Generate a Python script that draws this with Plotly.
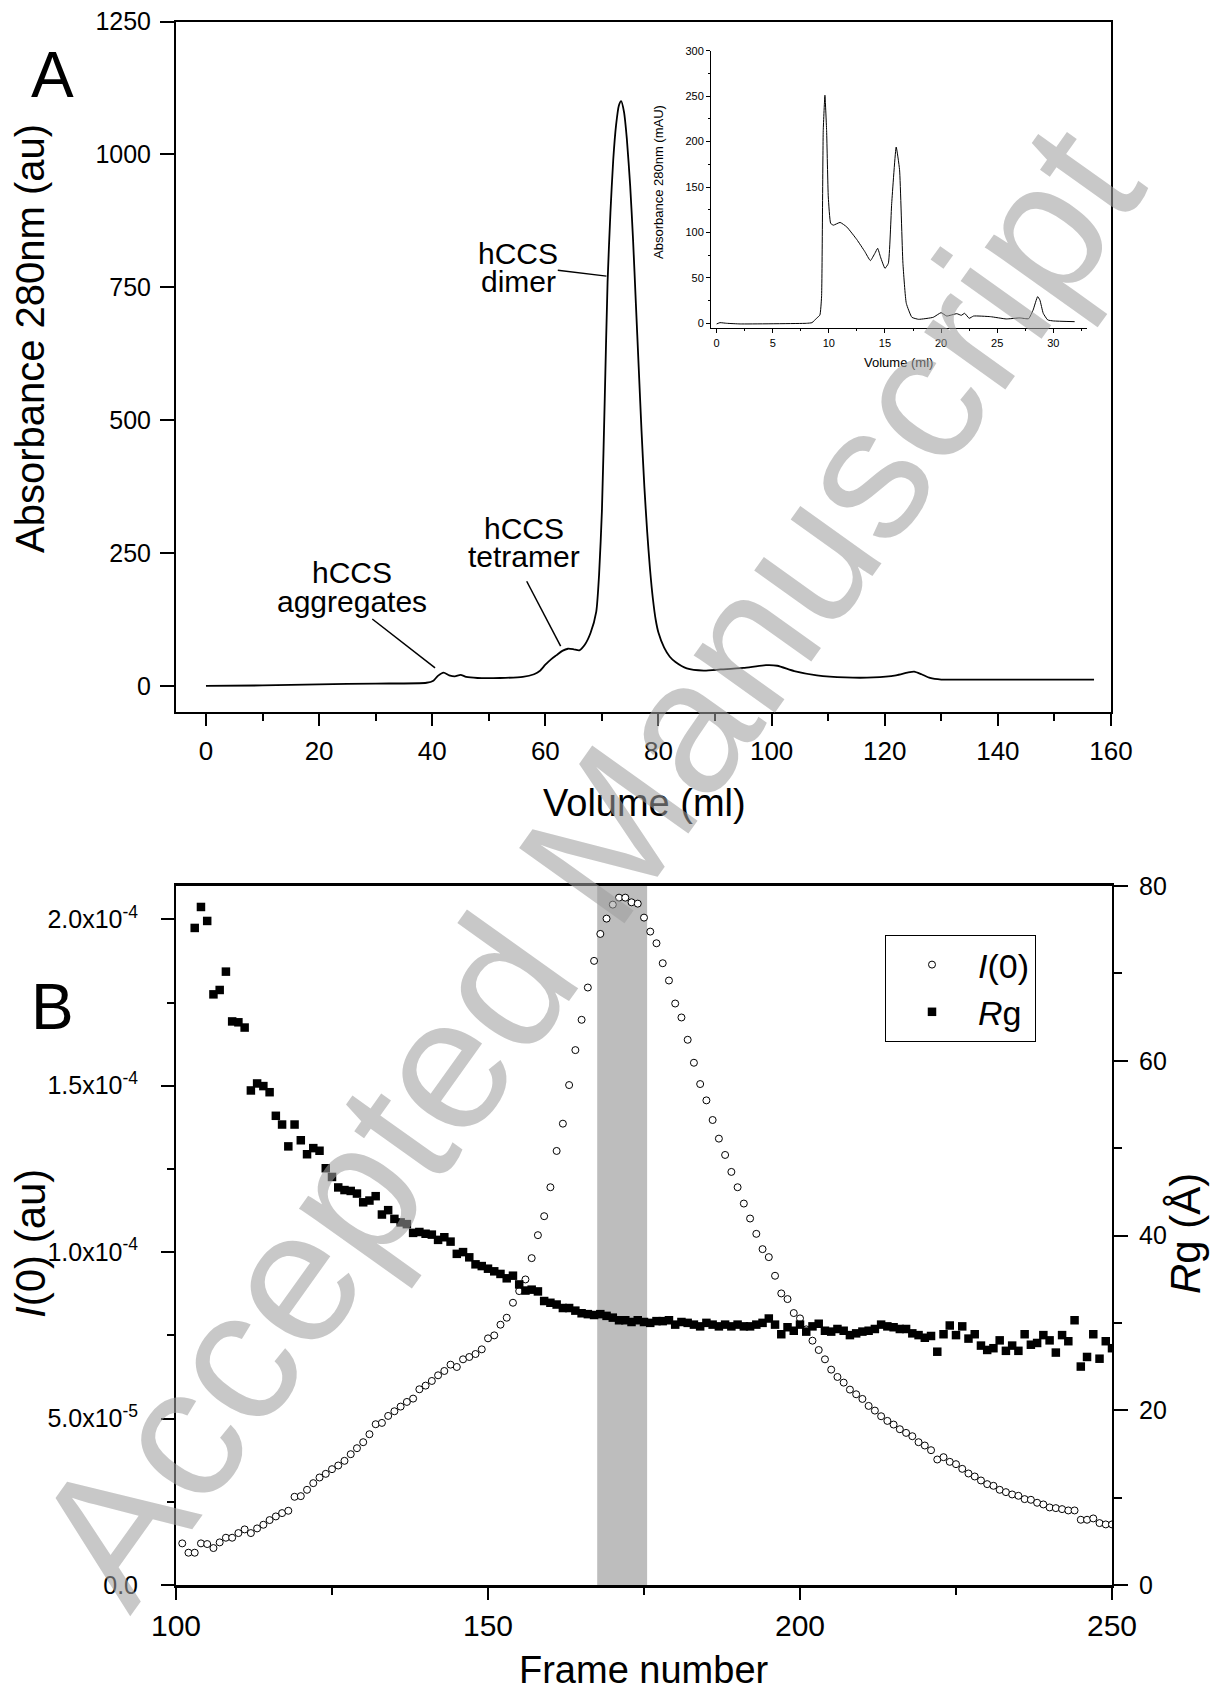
import plotly.graph_objects as go

W, H = 1225, 1690
OFF = 8  # page body margin offset (px) of the rendered html

# ---------------- Data ----------------
# Panel A: main SEC chromatogram (Volume ml, Absorbance au)
vol_main = [0, 10, 20, 30, 39, 40.2, 41, 42, 43, 44, 45, 46, 48, 52, 56, 58, 59, 60, 61, 62,
            63, 64, 65, 66, 67, 68, 69, 69.5, 70, 70.5, 71, 71.5, 72, 72.5, 73, 73.4, 73.9, 74.4,
            75, 75.5, 76, 76.5, 77, 77.5, 78, 78.5, 79, 79.5, 80, 81, 82, 83, 85, 88, 91, 95,
            99, 101, 104, 108, 113, 118, 122, 124, 125.2, 126.5, 128, 130, 135, 157]
abs_main = [0, 1, 3, 4.5, 6, 10, 19, 25, 20, 18, 21, 17, 15, 15, 17, 22, 28, 40, 50, 58,
            66, 70, 69, 67, 78, 100, 140, 210, 330, 540, 760, 890, 990, 1055, 1092, 1100, 1080, 1030,
            940, 840, 720, 600, 480, 375, 290, 220, 165, 125, 100, 72, 55, 45, 33, 29, 31, 34,
            39, 38, 28, 20, 16, 16, 20, 25, 27, 22, 15, 12, 12, 12]

# Panel A inset chromatogram (Volume ml, mAU)
vol_inset = [0, 0.3, 0.9, 2.1, 8, 8.5, 8.9, 9.2, 9.35, 9.5, 9.65, 9.8, 9.95, 10.16, 10.4, 11, 11.6,
             12.5, 13.2, 13.7, 14.1, 14.35, 14.6, 15.0, 15.3, 15.6, 16.0, 16.3, 16.6, 16.9, 17.4,
             18.0, 19.3, 20.0, 20.5, 21.4, 21.8, 22.1, 22.5, 22.9, 24.4, 25.8, 27, 27.8, 28.2,
             28.6, 28.8, 29.1, 29.5, 30, 31.9]
abs_inset = [-0.7, 0.7, 0, -0.7, 0, 0.7, 5.5, 9, 29, 212, 251, 212, 139, 110, 108, 111, 106,
             92, 79, 69, 77, 82.5, 73, 60.5, 66, 132, 194, 169, 66, 22, 6.6,
             4.4, 6.6, 11.7, 8, 10.6, 8.8, 11, 5.5, 8, 7.3, 4.8, 5.9, 5.1, 14.7,
             29.3, 25.7, 11, 3.7, 2.6, 1.8]

# Panel B: SAXS frames
frames_i0 = list(range(101, 251))
i0_e5 = [1.25, 0.97, 0.97, 1.25, 1.23, 1.11, 1.28, 1.42, 1.42, 1.56,
         1.67, 1.56, 1.70, 1.81, 1.95, 2.06, 2.16, 2.23, 2.65, 2.67,
         2.86, 3.06, 3.23, 3.34, 3.48, 3.59, 3.73, 3.93, 4.11, 4.29,
         4.53, 4.83, 4.87, 5.08, 5.22, 5.36, 5.50, 5.60, 5.88, 5.99,
         6.13, 6.30, 6.43, 6.62, 6.55, 6.78, 6.85, 6.94, 7.08, 7.41,
         7.50, 7.82, 8.03, 8.48, 8.83, 9.18, 9.82, 10.51, 11.08, 11.95,
         13.04, 13.86, 15.02, 16.07, 16.98, 17.95, 18.75, 19.56, 20.02, 20.44,
         20.65, 20.65, 20.51, 20.47, 20.05, 19.63, 19.28, 18.68, 18.16, 17.47,
         17.05, 16.38, 15.69, 15.05, 14.56, 13.97, 13.41, 12.92, 12.41, 11.95,
         11.46, 11.01, 10.55, 10.09, 9.85, 9.29, 8.76, 8.59, 8.17, 8.01,
         7.68, 7.34, 7.06, 6.78, 6.47, 6.25, 6.08, 5.87, 5.73, 5.59,
         5.38, 5.24, 5.07, 4.93, 4.82, 4.68, 4.57, 4.47, 4.29, 4.19,
         4.05, 3.77, 3.84, 3.70, 3.63, 3.49, 3.35, 3.26, 3.14, 3.03,
         2.98, 2.86, 2.79, 2.72, 2.68, 2.58, 2.56, 2.47, 2.42, 2.33,
         2.31, 2.28, 2.24, 2.24, 1.96, 1.96, 2.00, 1.86, 1.82, 1.82]

frames_rg = list(range(103, 251))
rg = [75.2, 77.6, 76.0, 67.6, 68.1, 70.2, 64.5, 64.4, 63.8, 56.6,
      57.4, 57.1, 56.4, 53.7, 52.7, 50.2, 52.7, 50.9, 49.3, 50.0,
      49.7, 47.7, 46.7, 45.5, 45.2, 45.1, 44.8, 43.8, 44.0, 44.5,
      42.4, 42.9, 41.9, 41.5, 41.3, 40.3, 40.4, 40.2, 40.1, 39.5,
      39.8, 39.3, 37.9, 38.1, 37.5, 36.7, 36.5, 36.2, 35.9, 35.6,
      35.1, 35.4, 34.4, 33.7, 33.8, 33.6, 32.5, 32.3, 32.1, 31.7,
      31.7, 31.4, 31.1, 31.0, 30.9, 31.0, 30.8, 30.6, 30.3, 30.3,
      30.1, 30.3, 30.1, 30.0, 30.2, 30.2, 30.3, 29.8, 30.1, 30.0,
      29.8, 29.6, 30.0, 29.8, 29.6, 29.8, 29.6, 29.8, 29.6, 29.6,
      29.8, 30.0, 30.5, 29.8, 28.7, 29.5, 29.1, 29.8, 29.0, 29.6,
      29.9, 29.1, 29.0, 29.3, 29.1, 28.6, 28.8, 29.0, 29.1, 29.3,
      29.8, 29.6, 29.5, 29.3, 29.3, 28.8, 28.6, 28.3, 28.5, 26.7,
      28.7, 29.7, 28.6, 29.6, 28.2, 28.7, 27.4, 26.9, 27.1, 28.0,
      26.8, 27.4, 26.8, 28.7, 27.5, 27.7, 28.6, 28.0, 26.6, 28.6,
      27.9, 30.3, 25.0, 26.1, 28.7, 25.9, 27.9, 27.1]

band_frames = [167.5, 175.5]

i0_ticks = [0, 5, 10, 15, 20]
i0_ticktext = ["0.0", "5.0x10<sup>-5</sup>", "1.0x10<sup>-4</sup>", "1.5x10<sup>-4</sup>", "2.0x10<sup>-4</sup>"]

# ---------------- Layout helpers (screen px -> paper) ----------------
def xdom(l, r):
    return [(l - OFF) / W, (r - OFF) / W]

def ydom(top, bottom):
    return [1 - (bottom - OFF) / H, 1 - (top - OFF) / H]

ARIAL = "Liberation Sans, Arial, Helvetica, sans-serif"
NARROW = "Liberation Sans Narrow, Arial Narrow, Liberation Sans, Arial, sans-serif"

fig = go.Figure()

fig.add_trace(go.Scatter(x=vol_main, y=abs_main, mode="lines",
                         line=dict(color="black", width=1.8, shape="spline", smoothing=0.6),
                         xaxis="x", yaxis="y", showlegend=False, hoverinfo="skip"))
fig.add_trace(go.Scatter(x=vol_inset, y=abs_inset, mode="lines",
                         line=dict(color="black", width=1.0, shape="spline", smoothing=0.4),
                         xaxis="x3", yaxis="y3", showlegend=False, hoverinfo="skip"))
fig.add_trace(go.Scatter(x=frames_i0, y=i0_e5, mode="markers", name="<i>I</i>(0)",
                         marker=dict(symbol="circle", size=7, color="white",
                                     line=dict(color="black", width=1)),
                         xaxis="x2", yaxis="y2"))
fig.add_trace(go.Scatter(x=frames_rg, y=rg, mode="markers", name="<i>R</i>g",
                         marker=dict(symbol="square", size=8.5, color="black",
                                     line=dict(width=0)),
                         xaxis="x2", yaxis="y4"))

axis_common = dict(showgrid=False, zeroline=False, showline=True, linecolor="black",
                   ticks="outside", tickcolor="black", automargin=False,
                   ticklabeloverflow="allow")

fig.update_layout(
    width=W, height=H, margin=dict(l=0, r=0, t=0, b=0, autoexpand=False),
    paper_bgcolor="white", plot_bgcolor="rgba(0,0,0,0)",
    font=dict(family=ARIAL, color="black"),
    # Panel A
    xaxis=dict(axis_common, domain=xdom(176, 1111), range=[-5.3, 160], anchor="y",
               mirror=True, linewidth=2, tickwidth=2, ticklen=12,
               tickvals=[0, 20, 40, 60, 80, 100, 120, 140, 160],
               minor=dict(dtick=10, tick0=0, ticklen=7, tickwidth=2, ticks="outside", tickcolor="black"),
               tickfont=dict(family=NARROW, size=26), ticklabelstandoff=3),
    yaxis=dict(axis_common, domain=ydom(21.5, 712), range=[-49, 1250], anchor="x",
               mirror=True, linewidth=2, tickwidth=2, ticklen=14,
               tickvals=[0, 250, 500, 750, 1000, 1250],
               tickfont=dict(family=ARIAL, size=25), ticklabelstandoff=4),
    # Inset
    xaxis3=dict(axis_common, domain=xdom(711, 1087), range=[-0.5, 33], anchor="y3",
                linewidth=1, tickwidth=1, ticklen=4, dtick=5, tick0=0,
                minor=dict(dtick=2.5, tick0=0, ticklen=2, tickwidth=1, ticks="outside", tickcolor="black"),
                tickfont=dict(size=11)),
    yaxis3=dict(axis_common, domain=ydom(50.7, 328.3), range=[-5.5, 300], anchor="x3",
                linewidth=1, tickwidth=1, ticklen=4, dtick=50, tick0=0,
                minor=dict(dtick=25, tick0=0, ticklen=2, tickwidth=1, ticks="outside", tickcolor="black"),
                tickfont=dict(size=11)),
    # Panel B
    xaxis2=dict(axis_common, domain=xdom(176, 1112), range=[100, 250], anchor="y2",
                mirror=True, linewidth=3, tickwidth=2, ticklen=12,
                tickvals=[100, 150, 200, 250],
                minor=dict(dtick=25, tick0=100, ticklen=7, tickwidth=2, ticks="outside", tickcolor="black"),
                tickfont=dict(family=NARROW, size=30), ticklabelstandoff=0),
    yaxis2=dict(axis_common, domain=ydom(886, 1585), range=[0, 21], anchor="x2",
                linewidth=2, tickwidth=2, ticklen=13,
                tickvals=i0_ticks, ticktext=i0_ticktext,
                minor=dict(dtick=2.5, tick0=0, ticklen=7, tickwidth=2, ticks="outside", tickcolor="black"),
                tickfont=dict(size=25), ticklabelstandoff=18),
    yaxis4=dict(axis_common, domain=ydom(886, 1585), range=[0, 80], anchor="x2",
                overlaying="y2", side="right",
                linewidth=2, tickwidth=2, ticklen=14,
                tickvals=[0, 20, 40, 60, 80],
                minor=dict(dtick=10, tick0=0, ticklen=8, tickwidth=2, ticks="outside", tickcolor="black"),
                tickfont=dict(size=25), ticklabelstandoff=6),
    legend=dict(x=(885 - OFF) / W, y=1 - (935 - OFF) / H, xanchor="left", yanchor="top",
                bordercolor="black", borderwidth=1, bgcolor="white",
                font=dict(family=ARIAL, size=34), itemwidth=82, tracegroupgap=0),
)

# shaded band (frames used)
fig.add_shape(type="rect", xref="x2", yref="y2 domain", x0=band_frames[0], x1=band_frames[1],
              y0=0, y1=1, fillcolor="#bdbdbd", line=dict(width=0), layer="below")

# leader lines (label positions in data units of panel A)
leaders = [((29.4, 126), (40.5, 34)), ((56.7, 197), (62.7, 75)), ((62.2, 782), (70.8, 771))]
for (x0, y0), (x1, y1) in leaders:
    fig.add_shape(type="line", xref="x", yref="y", x0=x0, y0=y0, x1=x1, y1=y1,
                  line=dict(color="black", width=1.5))

labels = [("hCCS", 25.8, 213), ("aggregates", 25.8, 158),
          ("hCCS", 56.3, 297), ("tetramer", 56.3, 243),
          ("hCCS", 55.2, 814), ("dimer", 55.2, 760)]
for txt, lx, ly in labels:
    fig.add_annotation(text=txt, x=lx, y=ly, xref="x", yref="y", showarrow=False,
                       font=dict(family=NARROW, size=30), xanchor="center", yanchor="middle")

def ann(text, px, py, size, angle=0, family=ARIAL, color="black"):
    fig.add_annotation(text=text, x=(px - OFF) / W, y=1 - (py - OFF) / H,
                       xref="paper", yref="paper",
                       showarrow=False, textangle=angle, xanchor="center", yanchor="middle",
                       font=dict(family=family, size=size, color=color))

ann("A", 52, 75, 64)
ann("B", 52, 1007, 64)
ann("Volume (ml)", 644, 803, 38, family=NARROW)
ann("Absorbance 280nm (au)", 30, 339, 40, angle=-90, family=NARROW)
ann("Frame number", 644, 1670, 38, family=NARROW)
ann("<i>I</i>(0) (au)", 30, 1244, 42, angle=-90)
ann("<i>R</i>g (Å)", 1185, 1234, 42, angle=-90)
ann("Absorbance 280nm (mAU)", 658, 182, 13, angle=-90)
ann("Volume (ml)", 898, 363, 13)

# watermark
ann("Accepted Manuscript", 587, 864, 188, angle=-54.5, color="rgba(158,158,158,0.57)")

fig.write_html("out.html")
